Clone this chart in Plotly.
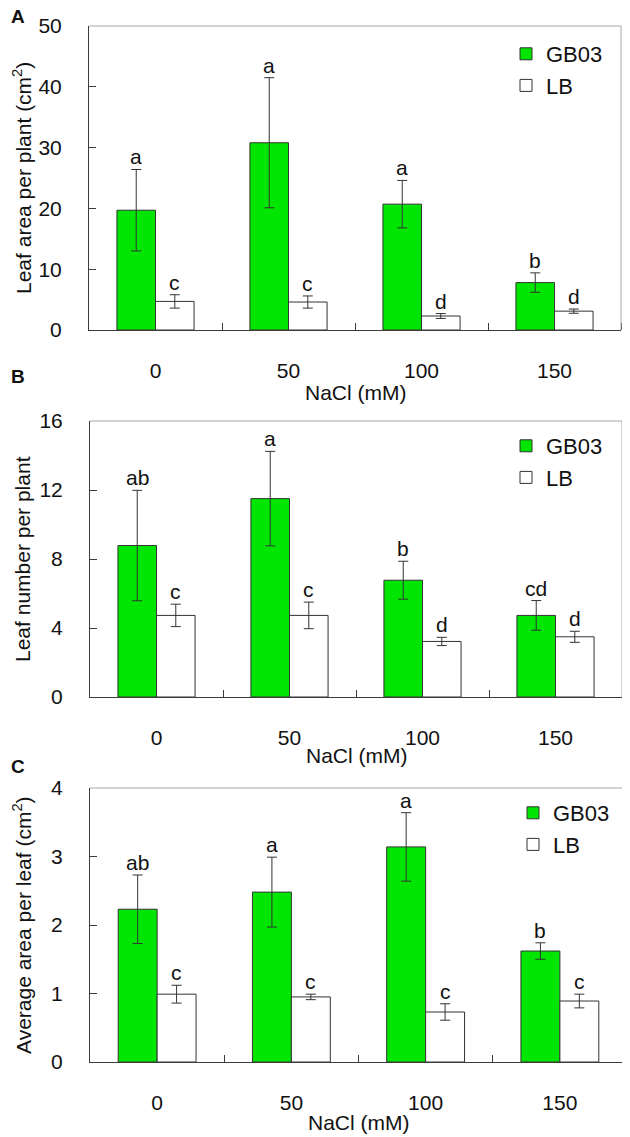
import plotly.graph_objects as go

# ---------------- data ----------------
categories = ["0", "50", "100", "150"]
series_names = ["GB03", "LB"]

# Panel A: leaf area per plant (cm2)
area_gb03 = [19.7, 30.8, 20.7, 7.8]
area_gb03_err = [6.7, 10.7, 3.9, 1.6]
area_lb = [4.7, 4.6, 2.3, 3.1]
area_lb_err = [1.1, 1.0, 0.4, 0.35]
area_gb03_letters = ["a", "a", "a", "b"]
area_lb_letters = ["c", "c", "d", "d"]

# Panel B: leaf number per plant
num_gb03 = [8.78, 11.5, 6.77, 4.73]
num_gb03_err = [3.2, 2.74, 1.1, 0.86]
num_lb = [4.73, 4.73, 3.22, 3.49]
num_lb_err = [0.65, 0.77, 0.24, 0.32]
num_gb03_letters = ["ab", "a", "b", "cd"]
num_lb_letters = ["c", "c", "d", "d"]

# Panel C: average area per leaf (cm2)
avg_gb03 = [2.23, 2.48, 3.14, 1.62]
avg_gb03_err = [0.5, 0.51, 0.5, 0.12]
avg_lb = [0.99, 0.95, 0.73, 0.89]
avg_lb_err = [0.13, 0.04, 0.12, 0.1]
avg_gb03_letters = ["ab", "a", "a", "b"]
avg_lb_letters = ["c", "c", "c", "c"]

panel_labels = ["A", "B", "C"]
y_titles = ["Leaf area per plant (cm<sup>2</sup>)", "Leaf number per plant",
            "Average area per leaf (cm<sup>2</sup>)"]
x_title = "NaCl (mM)"
y_ranges = [[0, 50], [0, 16], [0, 4]]
y_dticks = [10, 4, 1]

# ---------------- styling ----------------
OFF = 8  # page body margin of the browser
W, H = 630 - OFF, 1137 - OFF
FONT = "Arial, 'Liberation Sans', sans-serif"
FS = 20
FT = 21
FL = 22
GREEN = "#00e600"
AXC = "#3c3c3c"
FRAMEC = "#a6a6a6"
BARGAP = 0.42


def px(x):
    return (x - OFF) / W


def py(y):
    return 1 - (y - OFF) / H


# pixel boxes of the three plot areas: (left, right, top, bottom)
boxes = [(89, 621, 26, 330), (90, 622, 421, 697), (90, 627, 788, 1062)]
xtitle_y = [393, 755, 1122]
legend_tops = [33, 425, 792]
legend_text_x = [546, 546, 553]
letter_y = [16, 377, 766]

panels = [
    (area_gb03, area_gb03_err, area_lb, area_lb_err, area_gb03_letters, area_lb_letters),
    (num_gb03, num_gb03_err, num_lb, num_lb_err, num_gb03_letters, num_lb_letters),
    (avg_gb03, avg_gb03_err, avg_lb, avg_lb_err, avg_gb03_letters, avg_lb_letters),
]

xpos = list(range(len(categories)))
half = (1 - BARGAP) / 4.0

fig = go.Figure()
annotations = []
shapes = []
layout = dict(
    width=W, height=H, margin=dict(l=0, r=0, t=0, b=0, autoexpand=False),
    paper_bgcolor="white", plot_bgcolor="white",
    font=dict(family=FONT, size=FS, color="#111"),
    barmode="group", bargap=BARGAP, bargroupgap=0,
)

for i, (g, ge, l, le, gl, ll) in enumerate(panels):
    n = "" if i == 0 else str(i + 1)
    xa, ya = "x" + n, "y" + n
    lg = "legend" + n
    left, right, top, bottom = boxes[i]
    fig.add_trace(go.Bar(
        x=xpos, y=g, name=series_names[0], xaxis=xa, yaxis=ya, legend=lg,
        marker=dict(color=GREEN, line=dict(color="#333", width=1)),
        error_y=dict(type="data", array=ge, visible=True, color="#333", thickness=1, width=5),
        offsetgroup="g",
    ))
    fig.add_trace(go.Bar(
        x=xpos, y=l, name=series_names[1], xaxis=xa, yaxis=ya, legend=lg,
        marker=dict(color="white", line=dict(color="#333", width=1)),
        error_y=dict(type="data", array=le, visible=True, color="#333", thickness=1, width=5),
        offsetgroup="l",
    ))
    layout["xaxis" + n] = dict(
        domain=[px(left), px(right)], anchor=ya, range=[-0.5, 3.5],
        tickmode="array", tickvals=xpos, ticktext=categories, ticks="",
        ticklabelstandoff=22, showgrid=False, zeroline=False, automargin=False,
        showline=True, linecolor=AXC, linewidth=1,
        tickfont=dict(size=FT, family=FONT, color="#111"),
        minor=dict(tickmode="array", tickvals=[0.5, 1.5, 2.5, 3.5], ticks="inside",
                   ticklen=7, tickcolor=AXC, tickwidth=1, showgrid=False),
        fixedrange=True,
    )
    layout["yaxis" + n] = dict(
        domain=[py(bottom), py(top)], anchor=xa, range=y_ranges[i],
        dtick=y_dticks[i], tick0=0, ticks="inside", ticklen=7, tickcolor=AXC,
        ticklabelstandoff=22, showgrid=False, zeroline=False, automargin=False,
        showline=True, linecolor=AXC, linewidth=1,
        tickfont=dict(size=FT, family=FONT, color="#111"),
        fixedrange=True,
    )
    layout[lg] = dict(
        x=px(legend_text_x[i] - 40), xanchor="left", y=py(legend_tops[i]), yanchor="top",
        bgcolor="rgba(0,0,0,0)", font=dict(size=FL, family=FONT, color="#111"),
        itemwidth=30, tracegroupgap=0,
    )
    # top and right frame lines (lighter)
    shapes.append(dict(type="line", xref=xa + " domain", yref=ya + " domain",
                       x0=0, x1=1, y0=1, y1=1, line=dict(color=FRAMEC, width=1)))
    shapes.append(dict(type="line", xref=xa + " domain", yref=ya + " domain",
                       x0=1, x1=1, y0=0, y1=1, line=dict(color=FRAMEC, width=1)))
    # significance letters
    for j in xpos:
        annotations.append(dict(x=j - half, y=g[j] + ge[j], xref=xa, yref=ya, text=gl[j],
                                showarrow=False, yanchor="bottom", yshift=-1,
                                font=dict(size=FT, family=FONT, color="#111")))
        annotations.append(dict(x=j + half, y=l[j] + le[j], xref=xa, yref=ya, text=ll[j],
                                showarrow=False, yanchor="bottom", yshift=-1,
                                font=dict(size=FT, family=FONT, color="#111")))
    # y title
    annotations.append(dict(x=px(22), y=py((top + bottom) / 2), xref="paper", yref="paper",
                            text=y_titles[i], textangle=-90, showarrow=False,
                            xanchor="center", yanchor="middle",
                            font=dict(size=FT, family=FONT, color="#111")))
    # x title
    annotations.append(dict(x=px((left + right) / 2), y=py(xtitle_y[i]),
                            xref="paper", yref="paper", text=x_title, showarrow=False,
                            xanchor="center", yanchor="middle",
                            font=dict(size=FT, family=FONT, color="#111")))

# panel letters
for lab, yy in zip(panel_labels, letter_y):
    annotations.append(dict(x=px(18), y=py(yy), xref="paper", yref="paper", text="<b>%s</b>" % lab,
                            showarrow=False, xanchor="center", yanchor="middle",
                            font=dict(size=19, family=FONT, color="#111")))

layout["annotations"] = annotations
layout["shapes"] = shapes
fig.update_layout(**layout)
fig.write_html("out.html")
